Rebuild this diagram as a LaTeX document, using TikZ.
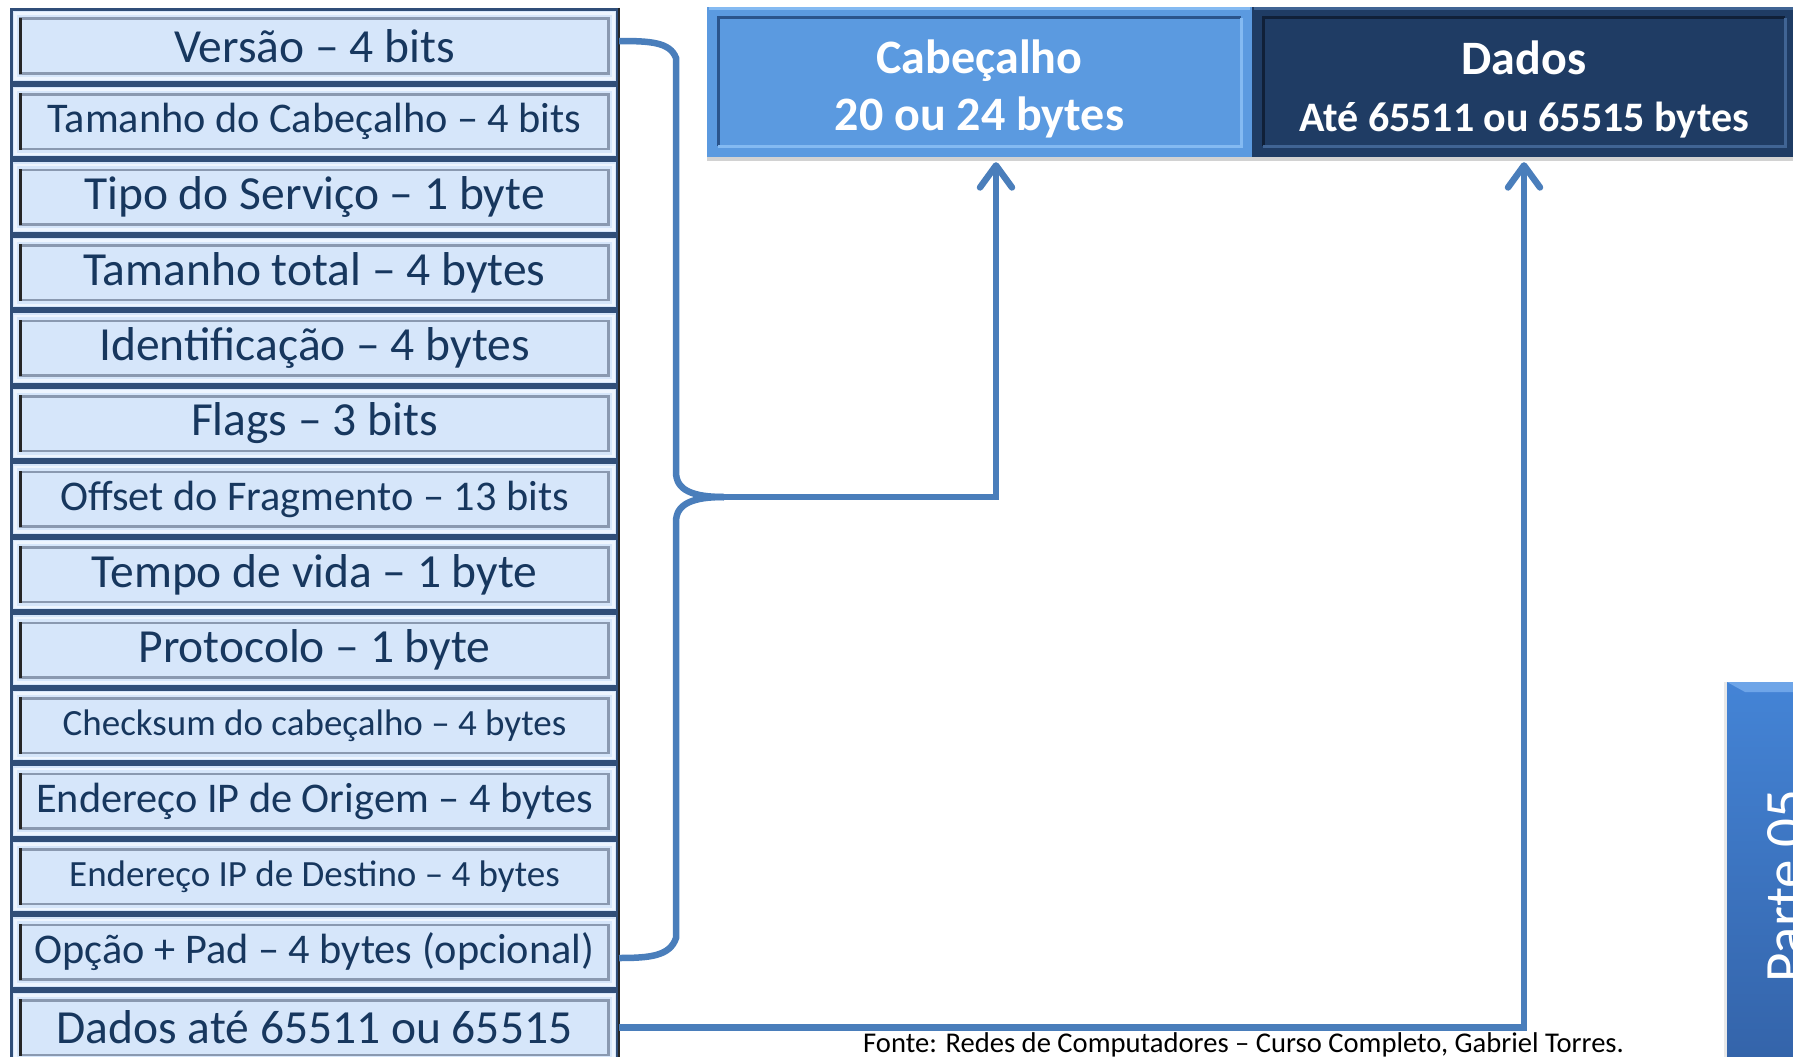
\documentclass[tikz,border=0pt]{standalone}
\usepackage{fontspec}
\setmainfont{Carlito}
\usetikzlibrary{arrows.meta,shadows}

\definecolor{rowfill}{RGB}{214,230,250}
\definecolor{rowedge}{RGB}{48,78,120}
\definecolor{rowtext}{RGB}{23,55,94}
\definecolor{bevelgray}{RGB}{138,153,176}
\definecolor{bevellight}{RGB}{238,245,254}
\definecolor{linkblue}{RGB}{74,126,187}
\definecolor{headfill}{RGB}{91,154,224}
\definecolor{headlight}{RGB}{132,186,242}
\definecolor{headdark}{RGB}{42,84,140}
\definecolor{datafill}{RGB}{31,60,100}
\definecolor{datalight}{RGB}{64,100,148}
\definecolor{datadark}{RGB}{16,32,56}
\definecolor{tabtop}{RGB}{68,132,214}
\definecolor{tabbottom}{RGB}{52,100,170}
\definecolor{tablight}{RGB}{110,165,232}

\newcommand\rowbig{\fontsize{47.5pt}{52pt}\selectfont}
\newcommand\rowmid{\fontsize{42.3pt}{48pt}\selectfont}
\newcommand\rowsmall{\fontsize{37pt}{42pt}\selectfont}
\newcommand\headbig{\fontsize{48pt}{57pt}\selectfont}
\newcommand\headsub{\fontsize{42pt}{57pt}\selectfont}
\newcommand\tabfont{\fontsize{57pt}{60pt}\selectfont}
\newcommand\notefont{\fontsize{28.6pt}{32pt}\selectfont}

\tikzset{
  field/.style={draw=rowedge, line width=3pt, fill=rowfill,
    minimum width=606pt, minimum height=72.5pt, inner sep=0pt, text=rowtext,
    path picture={
      \draw[bevellight, line width=2.5pt]
        ([shift={(4pt,4pt)}]path picture bounding box.south west) rectangle
        ([shift={(-4pt,-4pt)}]path picture bounding box.north east);
      \draw[bevelgray, line width=2.5pt]
        ([shift={(9pt,9pt)}]path picture bounding box.south west) rectangle
        ([shift={(-9pt,-9pt)}]path picture bounding box.north east);
      \draw[black!85, line width=3pt]
        ([shift={(9pt,8pt)}]path picture bounding box.south west) --
        ([shift={(9pt,-8pt)}]path picture bounding box.north west);
    }},
  headbox/.style={minimum width=545pt, minimum height=150pt, inner sep=0pt,
    drop shadow={shadow xshift=0pt, shadow yshift=-4pt, opacity=0.35}},
  headtext/.style={inner sep=0pt, text=white, align=center, font=\bfseries\headbig},
  headbevel/.style 2 args={path picture={
      \draw[#1, line width=3pt]
        ([shift={(2pt,-2pt)}]path picture bounding box.north west) --
        ([shift={(-2pt,-2pt)}]path picture bounding box.north east);
      \draw[#2, line width=3pt]
        ([shift={(11pt,11pt)}]path picture bounding box.south west) --
        ([shift={(11pt,-11pt)}]path picture bounding box.north west) --
        ([shift={(-11pt,-11pt)}]path picture bounding box.north east);
      \draw[#1, line width=3pt]
        ([shift={(-11pt,-11pt)}]path picture bounding box.north east) --
        ([shift={(-11pt,11pt)}]path picture bounding box.south east) --
        ([shift={(11pt,11pt)}]path picture bounding box.south west);
    }},
  linkline/.style={draw=linkblue, line width=6.5pt},
  uptip/.style={-{Straight Barb[length=22pt, width=32pt, round]}},
}

\begin{document}
\begin{tikzpicture}[x=1pt, y=-1pt]
  \useasboundingbox (0,0) rectangle (1793,1057);
  \fill[white] (0,0) rectangle (1793,1057);

  % header field stack
  \node[field] (r1)  at (314.5,  46.0) {\rowbig Versão – 4 bits};
  \node[field] (r2)  at (314.5, 121.5) {\rowmid Tamanho do Cabeçalho – 4 bits};
  \node[field] (r3)  at (314.5, 197.0) {\rowbig Tipo do Serviço – 1 byte};
  \node[field] (r4)  at (314.5, 272.5) {\rowbig Tamanho total – 4 bytes};
  \node[field] (r5)  at (314.5, 348.0) {\rowbig Identificação – 4 bytes};
  \node[field] (r6)  at (314.5, 423.5) {\rowbig Flags – 3 bits};
  \node[field] (r7)  at (314.5, 499.0) {\rowmid Offset do Fragmento – 13 bits};
  \node[field] (r8)  at (314.5, 574.5) {\rowbig Tempo de vida – 1 byte};
  \node[field] (r9)  at (314.5, 650.0) {\rowbig Protocolo – 1 byte};
  \node[field] (r10) at (314.5, 725.5) {\rowsmall Checksum do cabeçalho – 4 bytes};
  \node[field] (r11) at (314.5, 801.0) {\rowmid Endereço IP de Origem – 4 bytes};
  \node[field] (r12) at (314.5, 876.5) {\rowsmall Endereço IP de Destino – 4 bytes};
  \node[field] (r13) at (314.5, 952.0) {\rowmid Opção + Pad – 4 bytes (opcional)};
  \node[field] (r14) at (314.5,1027.5) {\rowbig Dados até 65511 ou 65515};
  \draw[black!85, line width=2.5pt] (619,8) -- (619,1057);

  % datagram overview
  \node[headbox, fill=headfill, headbevel={headlight}{headdark}] (cab) at (979.5,82) {};
  \node[headbox, minimum width=544pt, fill=datafill, headbevel={datalight}{datadark}] (dad) at (1524,82) {};
  \node[headtext] (cabtxt) at ([yshift=-7pt]cab.center) {Cabeçalho\\ 20 ou 24 bytes};
  \node[headtext] (dadtxt) at ([yshift=-7pt]dad.center) {Dados\\ \headsub Até 65511 ou 65515 bytes};

  % side tab
  \node[minimum width=73pt, minimum height=376pt, inner sep=0pt,
        top color=tabtop, bottom color=tabbottom,
        drop shadow={shadow xshift=-3pt, shadow yshift=0pt, opacity=0.18}] (tab) at (1763.5,870) {};
  \fill[tablight] (1727,682) -- (1800,682) -- (1800,692) -- (1745,692) -- cycle;
  \node[rotate=90, anchor=base, inner sep=0pt, text=white] (tablbl) at (1804,886) {\tabfont Parte 05};

  % brace grouping the header fields
  \coordinate (brtip) at (724,497);
  \draw[linkline] ([yshift=5pt]r1.east) .. controls (650,41) and (670,42) .. (676,58)
    -- (676,472) .. controls (676,490) and (692,497) .. (brtip);
  \draw[linkline] ([yshift=-6pt]r13.east) .. controls (650,958) and (670,956) .. (676,938)
    -- (676,522) .. controls (676,504) and (692,497) .. (brtip);

  % arrows into the overview
  \coordinate (cabin) at ([xshift=16.5pt, yshift=-5pt]cab.south);
  \coordinate (datin) at ([yshift=-5pt]dad.south);
  \draw[linkline, uptip] (brtip) -| (cabin);
  \draw[linkline, uptip] (r14.east) -| (datin);

  % source note
  \node[anchor=base west, inner sep=0pt, text=black] (src) at (863,1052)
    {\notefont Fonte: Redes de Computadores – Curso Completo, Gabriel Torres.};
\end{tikzpicture}
\end{document}
